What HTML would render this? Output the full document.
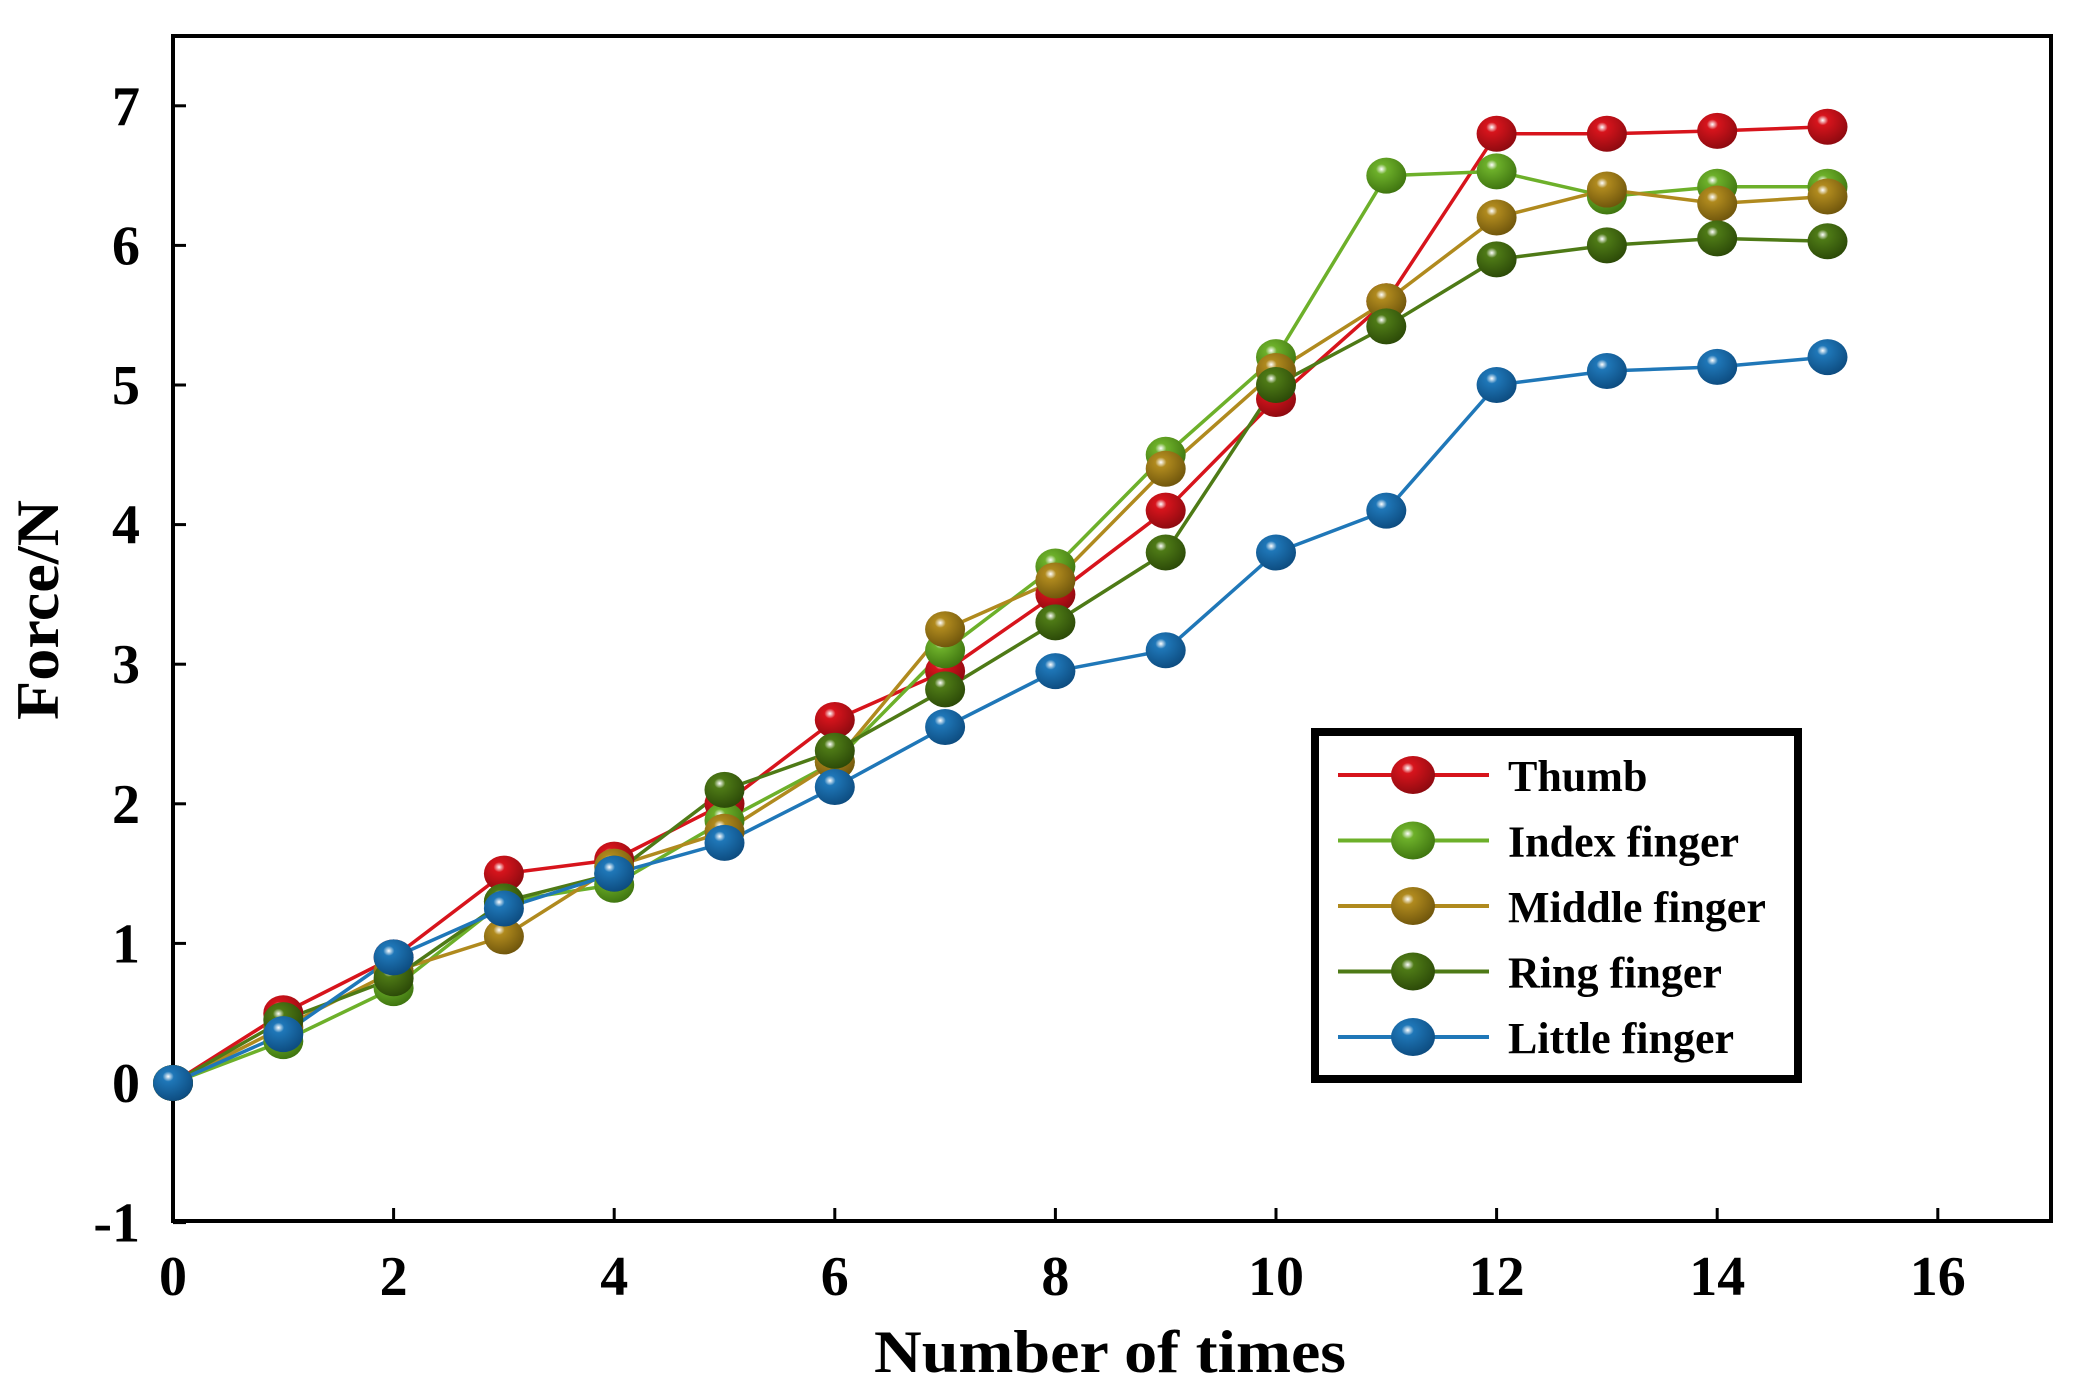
<!DOCTYPE html>
<html><head><meta charset="utf-8"><style>html,body{margin:0;padding:0;background:#fff}svg{display:block}text{font-family:"Liberation Serif",serif;font-weight:bold;fill:#000}</style></head>
<body>
<svg id="chart" width="2076" height="1391" viewBox="0 0 2076 1391" xmlns="http://www.w3.org/2000/svg">
<defs></defs>
</svg>
<script>
const xValues=[0,1,2,3,4,5,6,7,8,9,10,11,12,13,14,15];
const thumb=[0,0.5,0.9,1.5,1.6,2.0,2.6,2.95,3.5,4.1,4.9,5.6,6.8,6.8,6.82,6.85];
const indexF=[0,0.3,0.68,1.3,1.42,1.88,2.3,3.1,3.7,4.5,5.2,6.5,6.53,6.35,6.42,6.42];
const middle=[0,0.4,0.8,1.05,1.55,1.8,2.3,3.25,3.6,4.4,5.1,5.6,6.2,6.4,6.3,6.35];
const ring=[0,0.45,0.75,1.3,1.5,2.1,2.38,2.82,3.3,3.8,5.0,5.42,5.9,6.0,6.05,6.03];
const little=[0,0.35,0.9,1.25,1.5,1.72,2.12,2.55,2.95,3.1,3.8,4.1,5.0,5.1,5.13,5.2];
const seriesNames=["Thumb","Index finger","Middle finger","Ring finger","Little finger"];
const xTicks=[0,2,4,6,8,10,12,14,16];
const yTicks=[-1,0,1,2,3,4,5,6,7];

const NS="http://www.w3.org/2000/svg";
const svg=document.getElementById('chart');
const colors=["#d7141c","#6db02a","#b08a1e","#4e7a16","#1f77b8"];
const dark=["#8e0a10","#3f7510","#70560c","#2c4a08","#0d4c80"];
const allSeries=[thumb,indexF,middle,ring,little];
const L=173,R=2051,T=36,B=1221;
function xs(v){return 173+v*110.3;}
function ys(v){return 1083-v*139.6;}
function mk(tag,attrs,parent){const e=document.createElementNS(NS,tag);for(const k in attrs)e.setAttribute(k,attrs[k]);(parent||svg).appendChild(e);return e;}
const defs=svg.querySelector('defs');
colors.forEach((c,i)=>{const g=mk('radialGradient',{id:'g'+i,cx:'0.38',cy:'0.32',r:'0.7'},defs);
mk('stop',{offset:'0','stop-color':'#ffffff'},g);mk('stop',{offset:'0.2','stop-color':c},g);mk('stop',{offset:'1','stop-color':dark[i]},g);});
const frame=mk('rect',{x:L,y:T,width:R-L,height:B-T,fill:'none',stroke:'#000','stroke-width':4});


xTicks.forEach(t=>{
 const tk=mk('line',{x1:xs(t),x2:xs(t),y1:B,y2:B-13,stroke:'#000','stroke-width':3});
 
 
 const tl=mk('text',{x:xs(t),y:1295,'text-anchor':'middle','font-size':56});
 tl.textContent=t;
 
 
});
yTicks.forEach(t=>{
 const tk=mk('line',{x1:L,x2:L+13,y1:ys(t),y2:ys(t),stroke:'#000','stroke-width':3});
 
 
 const tl=mk('text',{x:140,y:ys(t)+19,'text-anchor':'end','font-size':56});
 tl.textContent=t;
 
 
});
const xt=mk('text',{x:1110,y:1372,'text-anchor':'middle','font-size':60,textLength:472,lengthAdjust:'spacingAndGlyphs'});
xt.textContent='Number of times';


const yt=mk('text',{x:0,y:0,'text-anchor':'middle','font-size':60,transform:'translate(58,610) rotate(-90)',textLength:220,lengthAdjust:'spacingAndGlyphs'});
yt.textContent='Force/N';


allSeries.forEach((s,i)=>{
 const pts=s.map((v,j)=>xs(xValues[j])+','+ys(v)).join(' ');
 const pl=mk('polyline',{points:pts,fill:'none',stroke:colors[i],'stroke-width':3.5});
 
 
});
allSeries.forEach((s,i)=>{
 s.forEach((v,j)=>{
  const c=mk('ellipse',{cx:xs(xValues[j]),cy:ys(v),rx:20,ry:18,fill:'url(#g'+i+')'});
  
  
 });
});
const lg=mk('g',{});


mk('rect',{x:1315,y:732,width:483,height:347,fill:'#fff',stroke:'#000','stroke-width':8},lg);
seriesNames.forEach((n,i)=>{
 const y=775+i*65.5;
 const e=mk('g',{},lg);
 
 
 mk('line',{x1:1338,x2:1489,y1:y,y2:y,stroke:colors[i],'stroke-width':4},e);
 mk('ellipse',{cx:1413,cy:y,rx:22,ry:19,fill:'url(#g'+i+')'},e);
 const t=mk('text',{x:1508,y:y+16,'font-size':44},e);
 t.textContent=n;
});
</script>
</body></html>
